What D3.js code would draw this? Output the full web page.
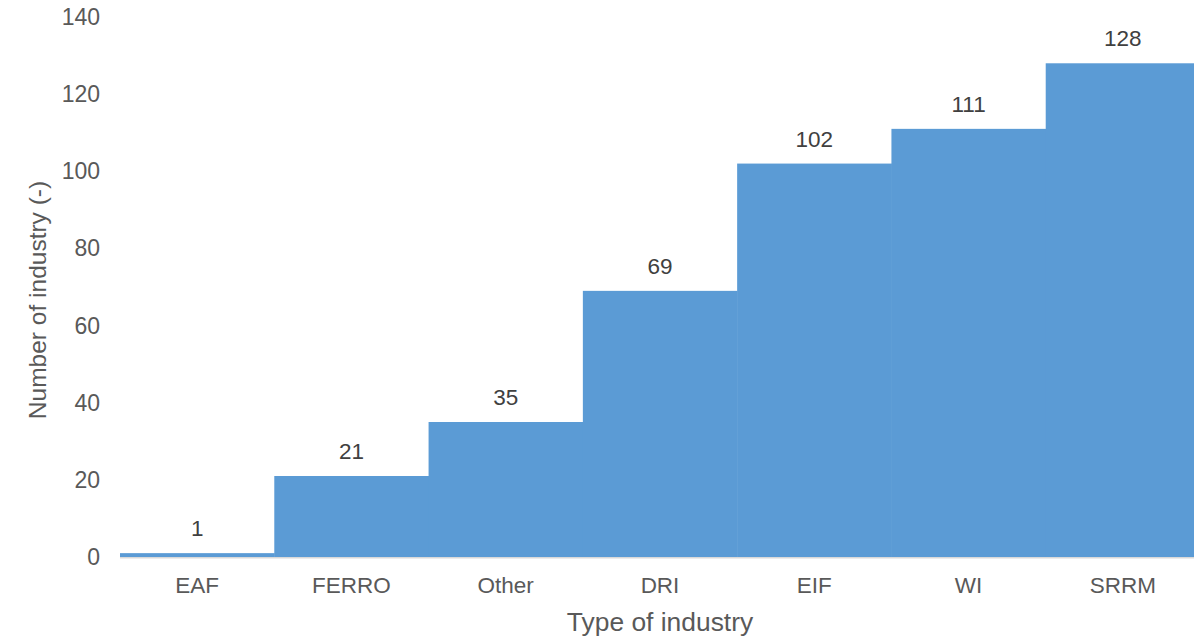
<!DOCTYPE html>
<html>
<head>
<meta charset="utf-8">
<script src="https://cdn.jsdelivr.net/npm/d3@7"></script>
<style>
  body { margin: 0; background: #fff; }
  svg { display: block; font-family: "Liberation Sans", Arial, sans-serif; }
</style>
</head>
<body>
<div id="chart"></div>
<script>
const categories = ['EAF', 'FERRO', 'Other', 'DRI', 'EIF', 'WI', 'SRRM'];
const counts = [1, 21, 35, 69, 102, 111, 128];
const yTicks = [0, 20, 40, 60, 80, 100, 120, 140];

const width = 1194, height = 640;

const svg = d3.select('#chart').append('svg')
  .attr('width', width)
  .attr('height', height);

// the plot runs a little past the right edge of the window
const x = d3.scaleBand()
  .domain(categories)
  .range([120, 1200])
  .padding(0);

const y = d3.scaleLinear()
  .domain([0, 140])
  .range([557, 17]);

const data = categories.map((c, i) => ({ cat: c, value: counts[i] }));

// bars
svg.append('g').selectAll('rect')
  .data(data)
  .enter()
  .append('rect')
  .attr('x', d => x(d.cat))
  .attr('y', d => y(d.value))
  .attr('width', x.bandwidth() + 0.5)
  .attr('height', d => y(0) - y(d.value))
  .attr('fill', '#5b9bd5');

// x axis line
svg.append('line')
  .attr('x1', 120).attr('x2', width)
  .attr('y1', y(0) + 0.7).attr('y2', y(0) + 0.7)
  .attr('stroke', '#d9d9d9')
  .attr('stroke-width', 1.5);

// y tick labels
svg.append('g').selectAll('text')
  .data(yTicks)
  .enter()
  .append('text')
  .attr('x', 100)
  .attr('y', d => y(d))
  .attr('dy', '0.35em')
  .attr('text-anchor', 'end')
  .attr('font-size', 23)
  .attr('fill', '#595959')
  .text(d => d);

// x category labels
svg.append('g').selectAll('text')
  .data(categories)
  .enter()
  .append('text')
  .attr('x', d => x(d) + x.bandwidth() / 2)
  .attr('y', 593)
  .attr('text-anchor', 'middle')
  .attr('font-size', 22.5)
  .attr('fill', '#595959')
  .text(d => d);

// value labels
svg.append('g').selectAll('text')
  .data(data)
  .enter()
  .append('text')
  .attr('x', d => x(d.cat) + x.bandwidth() / 2)
  .attr('y', d => y(d.value) - 17)
  .attr('text-anchor', 'middle')
  .attr('font-size', 22.5)
  .attr('fill', '#404040')
  .text(d => d.value);

// axis titles
svg.append('text')
  .attr('x', 660)
  .attr('y', 631)
  .attr('text-anchor', 'middle')
  .attr('font-size', 26.4)
  .attr('fill', '#595959')
  .text('Type of industry');

svg.append('text')
  .attr('transform', 'translate(46, 300) rotate(-90)')
  .attr('text-anchor', 'middle')
  .attr('font-size', 24.5)
  .attr('fill', '#595959')
  .text('Number of industry (-)');
</script>
</body>
</html>
